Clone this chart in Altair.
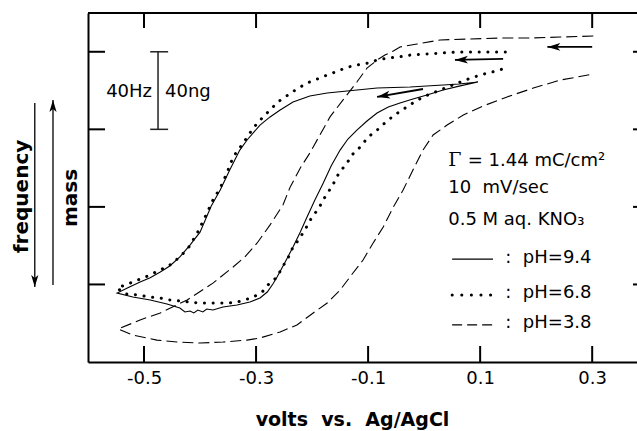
import altair as alt
import pandas as pd

FONT = "DejaVu Sans"
NB = "\u00a0"

# ---------------- axis layout values ----------------
X_DOMAIN = [-0.6, 0.38]
Y_DOMAIN = [0, 180]
x_ticks = [-0.5, -0.3, -0.1, 0.1, 0.3]
y_ticks = [40, 80, 120, 160]

# ---------------- curves: potential (V) vs frequency change (Hz) ----------------
# pH = 9.4 (solid): upper branch right->left, then lower branch left->right
ph94_x = [0.096, 0.0625, 0.034, -0.025, -0.084, -0.1375, -0.173, -0.204, -0.234, -0.257,
          -0.275, -0.293, -0.316, -0.329, -0.347, -0.364, -0.380, -0.400, -0.418, -0.436,
          -0.454, -0.471, -0.489, -0.507, -0.527, -0.548,
          -0.520, -0.489, -0.459, -0.436, -0.427, -0.418, -0.411, -0.404, -0.395, -0.388,
          -0.377, -0.359, -0.334, -0.311, -0.293, -0.280, -0.270, -0.2625, -0.248, -0.234,
          -0.221, -0.209, -0.195, -0.180, -0.166, -0.150, -0.136, -0.120, -0.102, -0.084,
          -0.064, -0.043, -0.020, 0.005, 0.034, 0.0625, 0.096]
ph94_y = [144.4, 143.4, 142.9, 141.8, 141.3, 139.8, 138.7, 137.2, 134.1, 130.0,
          126.4, 122.2, 114.5, 109.3, 99.0, 88.7, 80.5, 67.0, 60.3, 54.2,
          49.5, 46.4, 43.5, 41.3, 38.5, 35.6,
          33.5, 32.0, 29.9, 27.8, 25.8, 26.3, 25.3, 26.8, 25.8, 27.3,
          26.8, 28.4, 29.4, 30.9, 33.0, 36.1, 40.2, 43.8, 51.6, 59.3,
          67.0, 74.8, 83.5, 92.3, 101.1, 109.3, 115.0, 119.6, 124.3, 128.4,
          131.5, 133.6, 135.6, 137.7, 140.3, 142.3, 144.4]

# pH = 6.8 (dotted)
ph68_x = [0.145, 0.123, 0.095, 0.064, 0.034, 0.002, -0.025, -0.046, -0.064, -0.084,
          -0.100, -0.120, -0.136, -0.154, -0.173, -0.191, -0.209, -0.227, -0.243, -0.261,
          -0.275, -0.2875, -0.305, -0.323, -0.341, -0.352, -0.364, -0.377, -0.391, -0.405,
          -0.421, -0.436, -0.454, -0.475, -0.493, -0.511, -0.529, -0.548,
          -0.534, -0.511, -0.489, -0.471, -0.454, -0.436, -0.418, -0.400, -0.382, -0.364,
          -0.350, -0.334, -0.320, -0.305, -0.289, -0.279, -0.2625, -0.254, -0.243, -0.234,
          -0.223, -0.211, -0.200, -0.189, -0.177, -0.164, -0.152, -0.139, -0.127, -0.114,
          -0.100, -0.084, -0.070, -0.055, -0.039, -0.020, -0.002, 0.0375, 0.079, 0.095,
          0.1125, 0.130, 0.145]
ph68_y = [159.9, 159.9, 159.9, 159.9, 159.4, 158.8, 158.3, 157.3, 156.8, 155.7,
          154.2, 153.2, 152.1, 150.1, 148.0, 145.9, 143.9, 140.8, 137.7, 134.1,
          130.0, 126.4, 120.7, 112.9, 105.7, 97.5, 89.7, 83.5, 74.8, 66.5,
          58.8, 54.2, 50.0, 46.9, 44.4, 42.3, 40.2, 38.2,
          35.1, 34.6, 33.5, 33.0, 32.0, 31.5, 30.9, 30.4, 30.4, 30.4,
          30.4, 30.9, 32.0, 33.5, 36.1, 39.7, 43.8, 48.5, 53.6, 59.3,
          63.4, 69.1, 74.8, 78.9, 85.1, 90.8, 97.5, 102.1, 107.3, 110.9,
          116.0, 119.6, 123.3, 126.9, 130.0, 133.6, 136.7, 141.3, 146.0, 147.5,
          149.0, 150.1, 151.6]

# pH = 3.8 (dashed)
ph38_x = [0.302, 0.243, 0.189, 0.136, 0.082, 0.029, -0.0125, -0.043, -0.055, -0.070,
          -0.084, -0.102, -0.120, -0.145, -0.168, -0.186, -0.204, -0.221, -0.239, -0.252,
          -0.275, -0.298, -0.320, -0.341, -0.377, -0.423, -0.471, -0.507, -0.546,
          -0.520, -0.477, -0.441, -0.400, -0.359, -0.316, -0.293, -0.257, -0.227, -0.198,
          -0.173, -0.150, -0.127, -0.109, -0.091, -0.073, -0.055, -0.0375, -0.020, -0.002,
          0.016, 0.041, 0.070, 0.105, 0.148, 0.195, 0.243, 0.302]
ph38_y = [168.1, 167.6, 167.1, 167.1, 166.6, 166.1, 164.0, 162.5, 160.4, 158.3,
          155.7, 151.6, 144.4, 135.1, 126.4, 117.1, 107.8, 100.1, 90.3, 81.0,
          70.7, 61.4, 54.2, 49.0, 40.7, 32.0, 25.3, 21.7, 17.0,
          13.9, 11.3, 10.3, 9.8, 10.3, 11.3, 12.4, 15.5, 19.1, 25.3,
          30.4, 37.1, 45.9, 52.6, 61.4, 69.6, 79.9, 88.7, 99.0, 109.3,
          117.1, 122.2, 127.4, 132.0, 136.7, 141.3, 145.4, 148.5]

# ---------------- scan-direction arrows ----------------
arrow_x_tail = [0.300, 0.141, -0.002]
arrow_y_tail = [162.5, 156.3, 140.8]
arrow_x_tip = [0.220, 0.055, -0.084]
arrow_y_tip = [162.5, 155.8, 136.7]
arrow_angle = [0, 359, 350]

# ---------------- left side labels / arrows ----------------
side_labels = ["frequency", "mass"]
side_label_x = [-0.718, -0.6295]
side_label_y = [85.4, 84.6]
side_arrow_x = [-0.695, -0.6625]
side_arrow_y_tail = [133.6, 39.7]
side_arrow_y_tip = [38.7, 135.1]
side_arrow_angle = [270, 90]

# ---------------- scale bar ----------------
bar_x = -0.475
bar_y = [120, 160]
bar_cap_x = [-0.489, -0.457]
bar_text = ["40Hz", "40ng"]
bar_text_x = [-0.4857, -0.4625]
bar_text_y = 139.2

# ---------------- text block & legend ----------------
gamma_x = 0.043
gamma_rest_x = 0.078
block_text = ["= 1.44 mC/cm\u00b2", "10" + NB + NB + "mV/sec", "0.5 M aq. KNO\u2083"]
block_text_x = [gamma_rest_x, 0.043, 0.043]
block_y = [101.1, 87.2, 70.7]
legend_text = [":" + NB + NB + "pH=9.4", ":" + NB + NB + "pH=6.8", ":" + NB + NB + "pH=3.8"]
legend_text_x = 0.145
legend_text_y = [51.1, 33.0, 17.5]
legend_line_x = [0.05, 0.123]
legend_line_y = [53.1, 34.6, 19.1]

W, H = 549, 349

xs = alt.Scale(domain=X_DOMAIN, nice=False, zero=False)
ys = alt.Scale(domain=Y_DOMAIN, nice=False, zero=False)

x_axis = alt.Axis(values=x_ticks, ticks=False, tickSize=0, grid=False,
                  labelExpr="(datum.value < 0 ? '-' : '') + format(abs(datum.value), '.1f')",
                  domain=True, domainColor="black", domainWidth=2,
                  labelFont=FONT, labelFontSize=18, labelColor="black", labelPadding=7,
                  title="volts" + NB + NB + "vs." + NB + NB + "Ag/AgCl", titleFont=FONT,
                  titleFontSize=19, titleFontWeight="bold", titleColor="black",
                  titleX=264, titleY=63, titleAlign="center", titleBaseline="alphabetic")
y_axis = alt.Axis(labels=False, ticks=False, tickSize=0, grid=False, domain=True,
                  domainColor="black", domainWidth=2, title=None)


def X(f="x"):
    return alt.X(f"{f}:Q", scale=xs, axis=x_axis)


def Y(f="y"):
    return alt.Y(f"{f}:Q", scale=ys, axis=y_axis)


def curve_df(xv, yv):
    return pd.DataFrame({"x": xv, "y": yv, "i": list(range(len(xv)))})


solid = alt.Chart(curve_df(ph94_x, ph94_y)).mark_line(
    color="black", strokeWidth=1.1).encode(x=X(), y=Y(), order="i:Q")
dotted = alt.Chart(curve_df(ph68_x, ph68_y)).mark_line(
    color="black", strokeWidth=3, strokeDash=[0.1, 8.6], strokeCap="round").encode(
    x=X(), y=Y(), order="i:Q")
dashed = alt.Chart(curve_df(ph38_x, ph38_y)).mark_line(
    color="black", strokeWidth=1.1, strokeDash=[11, 5]).encode(x=X(), y=Y(), order="i:Q")

# frame: top border and inward ticks
top_border = alt.Chart(pd.DataFrame({"a": [0]})).mark_rule(color="black", strokeWidth=2).encode(
    x=alt.value(0), x2=alt.value(W), y=alt.value(0))
xt = pd.DataFrame({"x": x_ticks})
bottom_ticks = alt.Chart(xt).mark_rule(color="black", strokeWidth=2).encode(
    x=X(), y=alt.value(H), y2=alt.value(H - 16))
top_ticks = alt.Chart(xt).mark_rule(color="black", strokeWidth=2).encode(
    x=X(), y=alt.value(0), y2=alt.value(15))
yt = pd.DataFrame({"y": y_ticks})
left_ticks = alt.Chart(yt).mark_rule(color="black", strokeWidth=2).encode(
    y=Y(), x=alt.value(0), x2=alt.value(17))
right_ticks = alt.Chart(yt).mark_rule(color="black", strokeWidth=2).encode(
    y=Y(), x=alt.value(W - 4), x2=alt.value(W))

# arrows
arr = pd.DataFrame({"x": arrow_x_tail, "y": arrow_y_tail, "x2": arrow_x_tip,
                    "y2": arrow_y_tip, "angle": arrow_angle})
arrow_shafts = alt.Chart(arr).mark_rule(color="black", strokeWidth=1.8).encode(
    x=X(), y=Y(), x2="x2:Q", y2="y2:Q")
HEAD = "M0,0 L2,-0.6 L1.5,0 L2,0.6 Z"
arrow_heads = alt.Chart(arr).mark_point(shape=HEAD, filled=True, color="black", size=169,
                                        opacity=1, strokeWidth=0).encode(
    x=X("x2"), y=Y("y2"), angle=alt.Angle("angle:Q", scale=None))

sarr = pd.DataFrame({"x": side_arrow_x, "y": side_arrow_y_tail, "y2": side_arrow_y_tip,
                     "angle": side_arrow_angle})
side_shafts = alt.Chart(sarr).mark_rule(color="black", strokeWidth=1.3).encode(
    x=X(), y=Y(), y2="y2:Q")
side_heads = alt.Chart(sarr).mark_point(shape=HEAD, filled=True, color="black", size=144,
                                        opacity=1, strokeWidth=0).encode(
    x=X(), y=Y("y2"), angle=alt.Angle("angle:Q", scale=None))
side_text = alt.Chart(pd.DataFrame({"x": side_label_x, "y": side_label_y, "t": side_labels})).mark_text(
    font=FONT, fontSize=20, fontWeight="bold", angle=270, align="center", baseline="middle",
    color="black").encode(x=X(), y=Y(), text="t:N")

# scale bar
bar_v = alt.Chart(pd.DataFrame({"x": [bar_x], "y": [bar_y[0]], "y2": [bar_y[1]]})).mark_rule(
    color="#222", strokeWidth=1.5).encode(x=X(), y=Y(), y2="y2:Q")
bar_caps = alt.Chart(pd.DataFrame({"x": [bar_cap_x[0]] * 2, "x2": [bar_cap_x[1]] * 2,
                                   "y": bar_y})).mark_rule(color="#222", strokeWidth=1.5).encode(
    x=X(), x2="x2:Q", y=Y())
bar_t1 = alt.Chart(pd.DataFrame({"x": [bar_text_x[0]], "y": [bar_text_y], "t": [bar_text[0]]})).mark_text(
    font=FONT, fontSize=18, align="right", baseline="middle", color="black").encode(
    x=X(), y=Y(), text="t:N")
bar_t2 = alt.Chart(pd.DataFrame({"x": [bar_text_x[1]], "y": [bar_text_y], "t": [bar_text[1]]})).mark_text(
    font=FONT, fontSize=18, align="left", baseline="middle", color="black").encode(
    x=X(), y=Y(), text="t:N")

# text block
gamma = alt.Chart(pd.DataFrame({"x": [gamma_x], "y": [block_y[0]], "t": ["\u0393"]})).mark_text(
    font="DejaVu Serif", fontSize=19, align="left", baseline="alphabetic", color="black").encode(
    x=X(), y=Y(), text="t:N")
block = alt.Chart(pd.DataFrame({"x": block_text_x, "y": block_y, "t": block_text})).mark_text(
    font=FONT, fontSize=18, align="left", baseline="alphabetic", color="black").encode(
    x=X(), y=Y(), text="t:N")
leg_txt = alt.Chart(pd.DataFrame({"x": [legend_text_x] * 3, "y": legend_text_y, "t": legend_text})).mark_text(
    font=FONT, fontSize=18, align="left", baseline="alphabetic", color="black").encode(
    x=X(), y=Y(), text="t:N")


def leg_line(yv, **kw):
    d = pd.DataFrame({"x": [legend_line_x[0]], "x2": [legend_line_x[1]], "y": [yv]})
    return alt.Chart(d).mark_rule(color="black", **kw).encode(x=X(), x2="x2:Q", y=Y())


leg1 = leg_line(legend_line_y[0], strokeWidth=1.3)
leg2 = leg_line(legend_line_y[1], strokeWidth=3, strokeDash=[0.1, 9.5], strokeCap="round")
leg3 = leg_line(legend_line_y[2], strokeWidth=1.3, strokeDash=[10, 5])

chart = alt.layer(
    dashed, solid, dotted,
    top_border, bottom_ticks, top_ticks, left_ticks, right_ticks,
    arrow_shafts, arrow_heads, side_shafts, side_heads, side_text,
    bar_v, bar_caps, bar_t1, bar_t2, gamma, block, leg_txt, leg1, leg2, leg3,
).properties(
    width=W, height=H,
    padding={"left": 88, "top": 13, "right": 0, "bottom": 69},
    autosize=alt.AutoSizeParams(type="none"),
    background="white",
).configure_view(stroke=None)

chart.save("out.html", embed_options={"renderer": "svg", "actions": False})
